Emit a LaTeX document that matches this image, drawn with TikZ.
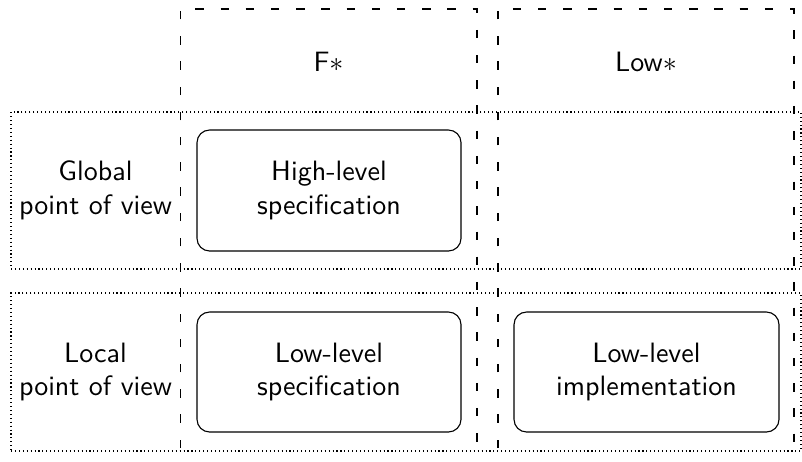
\documentclass[tikz,border=0pt]{standalone}
\usetikzlibrary{fit}
\begin{document}
\begin{tikzpicture}[x=0.357pt,y=-0.357pt,
  colline/.style={draw, loosely dashed},
  rowbox/.style={draw, densely dotted, inner sep=0pt},
  roundbox/.style={draw, rounded corners=4.5pt, inner sep=0pt},
  txt/.style={font=\sffamily, align=center, inner sep=0pt}]
\useasboundingbox (0,0) rectangle (802,461);
% columns (open at the bottom)
\coordinate (cfbl) at (180.5,448); \coordinate (cftl) at (180.5,9);
\coordinate (cftr) at (477,9);     \coordinate (cfbr) at (477,448);
\coordinate (clbl) at (498,448);   \coordinate (cltl) at (498,9);
\coordinate (cltr) at (794,9);     \coordinate (clbr) at (794,448);
\draw[colline] (cfbl) -- (cftl) -- (cftr) -- (cfbr);
\draw[colline] (clbl) -- (cltl) -- (cltr) -- (clbr);
% rows
\coordinate (rg1) at (11,112);   \coordinate (rg2) at (801,269);
\coordinate (rl1) at (11,293);   \coordinate (rl2) at (801,451);
\node[rowbox, fit=(rg1)(rg2)] (rowG) {};
\node[rowbox, fit=(rl1)(rl2)] (rowL) {};
% rounded boxes
\coordinate (b11) at (197,130);  \coordinate (b12) at (461,251);
\coordinate (b21) at (197,312);  \coordinate (b22) at (461,432);
\coordinate (b31) at (514,312);  \coordinate (b32) at (779,432);
\node[roundbox, fit=(b11)(b12)] (hls) {};
\node[roundbox, fit=(b21)(b22)] (lls) {};
\node[roundbox, fit=(b31)(b32)] (lli) {};
% texts
\node[txt] (tF) at (328.5,62) {F$*$};
\node[txt] (tL) at (646,62) {Low$*$};
\node[txt] (tG) at (95.5,190.5) {Global\\point of view};
\node[txt] (tLo) at (95.5,372) {Local\\point of view};
\node[txt] (thls) at (hls.center) {High-level\\specification};
\node[txt] (tlls) at (lls.center) {Low-level\\specification};
\node[txt] (tlli) at (lli.center) {Low-level\\implementation};
\end{tikzpicture}
\end{document}
